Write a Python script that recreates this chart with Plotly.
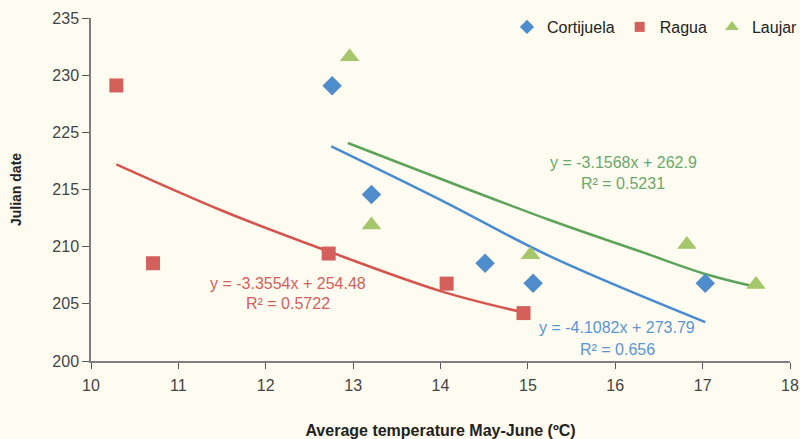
import plotly.graph_objects as go

# Y positions are in axis units (evenly spaced gridline steps of 5 from 200)
y_tickvals = [200, 205, 210, 215, 220, 225, 230]
y_ticktext = ["200", "205", "210", "215", "225", "230", "235"]
x_tickvals = [10, 11, 12, 13, 14, 15, 16, 17, 18]

cort_x = [12.76, 13.21, 14.51, 15.06, 17.03]
cort_y = [224.08, 214.56, 208.55, 206.8, 206.8]

ragua_x = [10.29, 10.71, 12.72, 14.07, 14.95]
ragua_y = [224.1, 208.55, 209.4, 206.77, 204.19]

laujar_x = [12.96, 13.21, 15.03, 16.82, 17.61]
laujar_y = [226.6, 211.9, 209.3, 210.2, 206.7]

# trend curves as drawn
ragua_fit_x = [10.29, 11.51, 12.66, 14.01, 14.95]
ragua_fit_y = [217.2, 213.12, 209.75, 206.09, 204.24]
cort_fit_x = [12.75, 14.0, 15.25, 17.03]
cort_fit_y = [218.78, 214.1, 209.17, 203.4]
laujar_fit_x = [12.94, 15.25, 16.28, 17.05, 17.58]
laujar_fit_y = [219.07, 212.33, 209.6, 207.56, 206.53]

BLUE = "#4f8ccb"
RED = "#d4605b"
GREEN_M = "#a5c66b"
GREEN_L = "#5ea35a"
BG = "#fefcf0"
FONT = "Liberation Sans, Arial, sans-serif"
NARROW = "Liberation Sans Narrow, Arial Narrow, " + FONT

fig = go.Figure()
fig.add_trace(go.Scatter(x=ragua_fit_x, y=ragua_fit_y, mode="lines", line=dict(color="#d4554f", width=2.5, shape="spline"), showlegend=False, hoverinfo="skip"))
fig.add_trace(go.Scatter(x=cort_fit_x, y=cort_fit_y, mode="lines", line=dict(color="#4a8ad0", width=2.5, shape="spline"), showlegend=False, hoverinfo="skip"))
fig.add_trace(go.Scatter(x=laujar_fit_x, y=laujar_fit_y, mode="lines", line=dict(color=GREEN_L, width=2.5, shape="spline"), showlegend=False, hoverinfo="skip"))

for name, xs, ys, sym, size, col in [
    ("Cortijuela", cort_x, cort_y, "diamond", 15, BLUE),
    ("Ragua", ragua_x, ragua_y, "square", 14, RED),
    ("Laujar", laujar_x, laujar_y, "triangle-up", 17, GREEN_M),
]:
    fig.add_trace(go.Scatter(x=xs, y=ys, mode="markers", name=name, showlegend=False,
                             marker=dict(symbol=sym, size=size, color=col)))
# legend entries (smaller symbols as in the reference legend)
for name, sym, size, col in [
    ("Cortijuela", "diamond", 11, BLUE),
    ("Ragua", "square", 10, RED),
    ("Laujar", "triangle-up", 12, GREEN_M),
]:
    fig.add_trace(go.Scatter(x=[None], y=[None], mode="markers", name=name,
                             marker=dict(symbol=sym, size=size, color=col)))

W, H = 800, 439
L, R, T, B = 91, 10, 18, 78
pw, ph = W - L - R, H - T - B
def px(xp, yp):
    return (xp - L) / pw, 1 - (yp - T) / ph

for (xp, yp, t, c) in [
    (287.5, 283.5, "y = -3.3554x + 254.48", RED),
    (287.5, 303.5, "R² = 0.5722", RED),
    (623, 162, "y = -3.1568x + 262.9", "#6aa86a"),
    (623, 183.5, "R² = 0.5231", "#6aa86a"),
    (617, 327, "y = -4.1082x + 273.79", "#5b95d0"),
    (617, 349, "R² = 0.656", "#5b95d0"),
]:
    xx, yy = px(xp, yp)
    fig.add_annotation(x=xx, y=yy, xref="paper", yref="paper", text=t, showarrow=False,
                       font=dict(family=FONT, size=16, color=c), xanchor="center", yanchor="middle")

fig.update_layout(
    width=W, height=H,
    margin=dict(l=L, r=R, t=T, b=B, autoexpand=False),
    paper_bgcolor=BG, plot_bgcolor=BG,
    font=dict(family=FONT, size=16, color="#333333"),
    legend=dict(orientation="h", x=1.0186, xanchor="right", y=1.0 + 8 / ph, yanchor="top",
                bgcolor="rgba(0,0,0,0)", font=dict(size=16, color="#222222"),
                itemwidth=30, tracegroupgap=0),
    xaxis=dict(range=[10, 18], tickvals=x_tickvals, showgrid=False, zeroline=False,
               showline=True, linecolor="#7f7f7f", linewidth=1.5, automargin=False,
               ticks="outside", ticklen=6, tickcolor="#555555", ticklabelstandoff=3,
               tickfont=dict(size=16, color="#444444"),
               title=dict(text="<b>Average temperature May-June (ºC)</b>", standoff=37,
                          font=dict(family=NARROW, size=16, color="#222222"))),
    yaxis=dict(range=[200, 230], tickvals=y_tickvals, ticktext=y_ticktext, showgrid=False, zeroline=False,
               showline=True, linecolor="#7f7f7f", linewidth=1.5, automargin=False,
               ticks="outside", ticklen=7, tickcolor="#555555", tickfont=dict(size=16, color="#444444"),
               title=dict(text="<b>Julian date</b>", standoff=27,
                          font=dict(family=NARROW, size=14, color="#222222"))),
)

fig.write_html("out.html", config={"displayModeBar": False},
               post_script="document.body.style.margin='0px';document.body.style.background='" + BG + "';")
